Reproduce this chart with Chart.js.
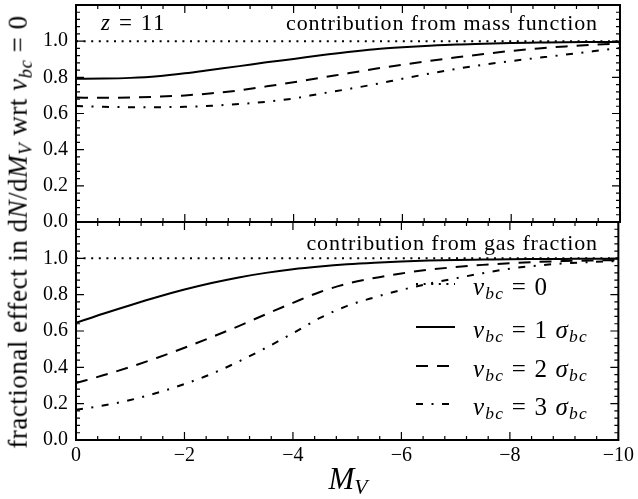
<!DOCTYPE html>
<html lang="en">
<head>
<meta charset="UTF-8">
<title>fractional effect vs M_V</title>
<script src="https://cdn.jsdelivr.net/npm/chart.js"></script>
<style>
  body { margin: 0; background: #fff; }
  #wrap { position: relative; width: 638px; height: 499px; font-family: "Liberation Serif", serif; color: #000; }
  #wrap canvas { position: absolute; left: 0; top: 0; }
  .lbl { position: absolute; white-space: nowrap; line-height: 1; }
  .s { font-size: 0.7em; vertical-align: -0.25em; font-style: italic; }
  .leg { font-size: 25px; letter-spacing: 1.2px; }
</style>
</head>
<body>
<div id="wrap">
  <canvas id="topChart" width="638" height="499"></canvas>
  <canvas id="botChart" width="638" height="499"></canvas>

  <div class="lbl" style="left:101px; top:11px; font-size:23px; letter-spacing:1.6px;"><i>z</i> = 11</div>
  <div class="lbl" style="right:40px; top:12px; font-size:22px; letter-spacing:0.9px;">contribution from mass function</div>
  <div class="lbl" style="right:40px; top:232px; font-size:22px; letter-spacing:0.9px;">contribution from gas fraction</div>

  <div class="lbl leg" style="left:473px; top:274px;"><i>v</i><span class="s">bc</span> = 0</div>
  <div class="lbl leg" style="left:473px; top:317px;"><i>v</i><span class="s">bc</span> = 1 <i>σ</i><span class="s">bc</span></div>
  <div class="lbl leg" style="left:473px; top:356px;"><i>v</i><span class="s">bc</span> = 2 <i>σ</i><span class="s">bc</span></div>
  <div class="lbl leg" style="left:473px; top:394px;"><i>v</i><span class="s">bc</span> = 3 <i>σ</i><span class="s">bc</span></div>

  <div class="lbl" style="left:20px; top:232px; font-size:27px; letter-spacing:0.5px; transform:translate(-50%,-50%) rotate(-90deg);">fractional effect in d<i>N</i>/d<i>M</i><span class="s">V</span> wrt <i>v</i><span class="s">bc</span> = 0</div>
  <div class="lbl" style="left:348px; top:463px; font-size:31px; transform:translateX(-50%);"><i>M</i><span class="s">V</span></div>
</div>

<script>
// absolute magnitude M_V
const magV = [0, -0.5, -1, -1.5, -2, -2.5, -3, -3.5, -4, -4.5, -5, -5.5, -6, -6.5, -7, -7.5, -8, -8.5, -9, -9.5, -10];

// reference line, v_bc = 0
const noStream = [1, 1, 1, 1, 1, 1, 1, 1, 1, 1, 1, 1, 1, 1, 1, 1, 1, 1, 1, 1, 1];

// contribution from mass function
const massSig1 = [0.792, 0.793, 0.797, 0.806, 0.822, 0.842, 0.862, 0.883, 0.902, 0.922, 0.940, 0.955, 0.966, 0.975, 0.982, 0.986, 0.990, 0.992, 0.994, 0.995, 0.996];
const massSig2 = [0.688, 0.687, 0.688, 0.693, 0.700, 0.712, 0.728, 0.750, 0.773, 0.798, 0.822, 0.847, 0.870, 0.891, 0.911, 0.929, 0.946, 0.960, 0.971, 0.980, 0.986];
const massSig3 = [0.642, 0.637, 0.635, 0.635, 0.637, 0.643, 0.652, 0.665, 0.683, 0.710, 0.735, 0.762, 0.792, 0.821, 0.847, 0.870, 0.890, 0.908, 0.926, 0.944, 0.962];

// contribution from gas fraction
const gasSig1 = [0.645, 0.695, 0.742, 0.787, 0.828, 0.864, 0.895, 0.920, 0.940, 0.955, 0.967, 0.976, 0.983, 0.988, 0.991, 0.993, 0.995, 0.996, 0.997, 0.998, 0.998];
const gasSig2 = [0.313, 0.356, 0.402, 0.453, 0.508, 0.566, 0.627, 0.692, 0.755, 0.815, 0.860, 0.892, 0.917, 0.937, 0.952, 0.964, 0.973, 0.980, 0.985, 0.988, 0.990];
const gasSig3 = [0.166, 0.190, 0.220, 0.260, 0.308, 0.364, 0.432, 0.507, 0.588, 0.672, 0.738, 0.785, 0.826, 0.860, 0.890, 0.918, 0.943, 0.960, 0.972, 0.980, 0.985];

const xTicks = [0, -2, -4, -6, -8, -10];
const yTicks = [0, 0.2, 0.4, 0.6, 0.8, 1.0];

const styles = [
  { borderDash: [2, 5.6] },
  { borderDash: [] },
  { borderDash: [12, 9] },
  { borderDash: [7, 8.5, 2, 8.5] }
];
const legendRows = [284, 327, 366, 404];

function makeSets(series) {
  return series.map((ys, i) => ({
    data: magV.map((x, j) => ({ x: x, y: ys[j] })),
    borderColor: '#000',
    borderWidth: 2,
    borderDash: styles[i].borderDash,
    pointRadius: 0,
    cubicInterpolationMode: 'monotone',
    fill: false
  }));
}

// frame plus inward ticks on all four sides
const frameTicks = {
  id: 'frameTicks',
  afterDatasetsDraw(chart) {
    const { ctx, chartArea: a, scales } = chart;
    const x = scales.x, y = scales.y;
    ctx.save();
    ctx.strokeStyle = '#000';
    ctx.setLineDash([]);
    ctx.lineWidth = 1.2;
    ctx.beginPath();
    for (let i = 0; i <= 25; i++) {
      const px = x.getPixelForValue(-i * 0.4);
      const len = i % 5 === 0 ? 8 : 4;
      ctx.moveTo(px, a.bottom); ctx.lineTo(px, a.bottom - len);
      ctx.moveTo(px, a.top); ctx.lineTo(px, a.top + len);
    }
    for (let i = 0; i <= 30; i++) {
      const py = y.getPixelForValue(i * 0.04);
      const len = i % 5 === 0 ? 8 : 4;
      ctx.moveTo(a.left, py); ctx.lineTo(a.left + len, py);
      ctx.moveTo(a.right, py); ctx.lineTo(a.right - len, py);
    }
    ctx.stroke();
    ctx.lineWidth = 2;
    ctx.strokeRect(a.left, a.top, a.right - a.left, a.bottom - a.top);
    ctx.restore();
  }
};

// line samples of the legend in the lower panel
const legendLines = {
  id: 'legendLines',
  afterDraw(chart) {
    const ctx = chart.ctx;
    ctx.save();
    chart.data.datasets.forEach((ds, i) => {
      ctx.strokeStyle = '#000';
      ctx.lineWidth = ds.borderWidth;
      ctx.setLineDash(ds.borderDash);
      ctx.beginPath();
      ctx.moveTo(416, legendRows[i]);
      ctx.lineTo(455, legendRows[i]);
      ctx.stroke();
    });
    ctx.restore();
  }
};

const tickFont = { family: 'Liberation Serif', size: 20 };

function yScale() {
  return {
    type: 'linear',
    min: 0,
    max: 1.2,
    grid: { display: false, drawTicks: false },
    border: { display: false },
    afterBuildTicks: s => { s.ticks = yTicks.map(v => ({ value: v })); },
    afterFit: s => { s.width = 76; s.paddingTop = 0; s.paddingBottom = 0; },
    ticks: { color: '#000', font: tickFont, padding: 8, callback: v => v.toFixed(1) }
  };
}

function xScale(show) {
  return {
    type: 'linear',
    min: -10,
    max: 0,
    reverse: true,
    display: show,
    grid: { display: false, drawTicks: false },
    border: { display: false },
    afterBuildTicks: s => { s.ticks = xTicks.map(v => ({ value: v })); },
    afterFit: s => { s.height = show ? 59 : 0; },
    ticks: { color: '#000', font: tickFont, padding: 4, maxRotation: 0,
      callback: v => v === 0 ? '0' : '\u2212' + Math.abs(v) }
  };
}

const common = {
  responsive: false,
  animation: false,
  devicePixelRatio: 1,
  plugins: { legend: { display: false }, tooltip: { enabled: false } }
};

new Chart(document.getElementById('topChart'), {
  type: 'line',
  data: { datasets: makeSets([noStream, massSig1, massSig2, massSig3]) },
  options: Object.assign({}, common, {
    layout: { padding: { top: 5, bottom: 277, left: 0, right: 18 } },
    scales: { x: xScale(false), y: yScale() }
  }),
  plugins: [frameTicks]
});

new Chart(document.getElementById('botChart'), {
  type: 'line',
  data: { datasets: makeSets([noStream, gasSig1, gasSig2, gasSig3]) },
  options: Object.assign({}, common, {
    layout: { padding: { top: 222, bottom: 0, left: 0, right: 18 } },
    scales: { x: xScale(true), y: yScale() }
  }),
  plugins: [frameTicks, legendLines]
});
</script>
</body>
</html>
